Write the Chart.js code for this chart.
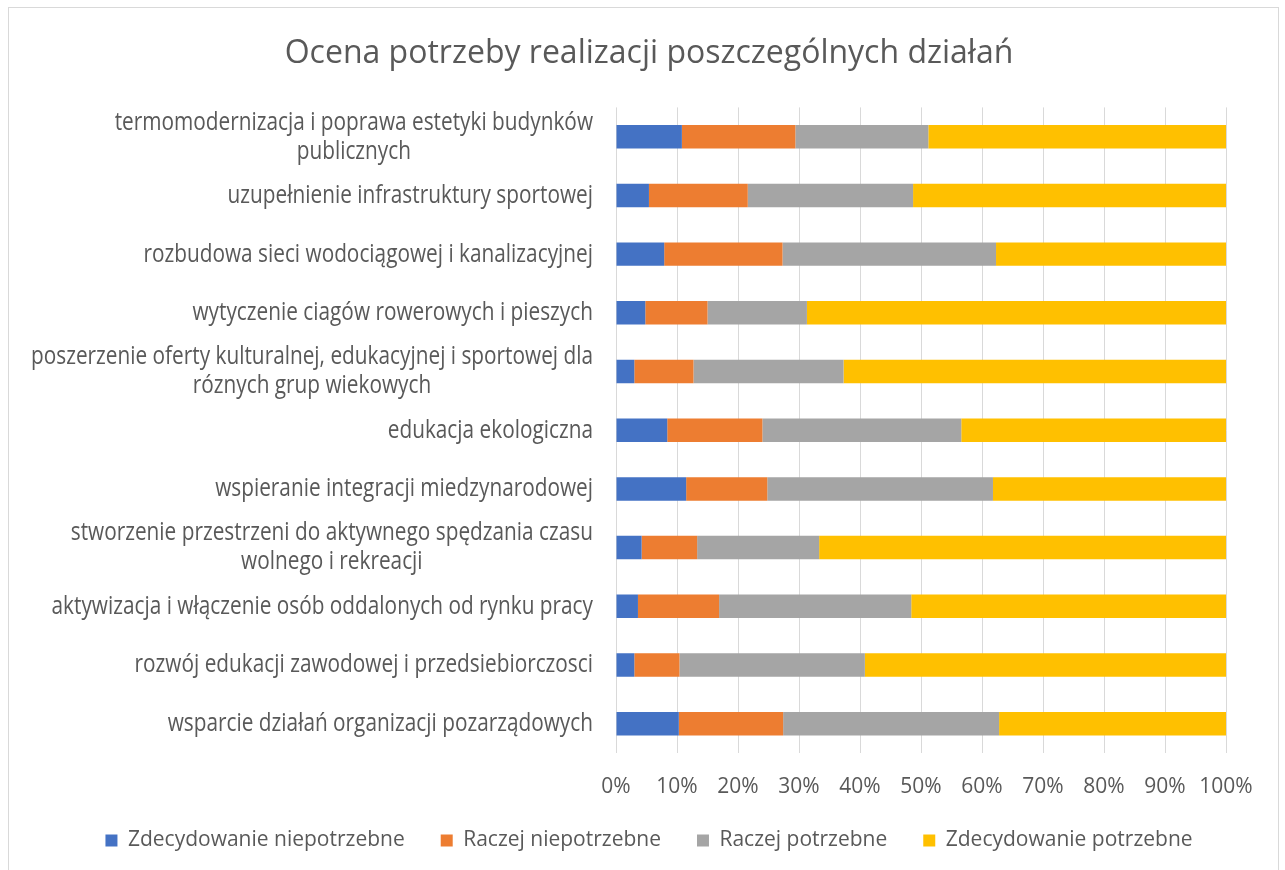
<!DOCTYPE html>
<html><head><meta charset="utf-8">
<script src="https://cdn.jsdelivr.net/npm/chart.js@4.4.1/dist/chart.umd.min.js"></script>
<style>
html,body{margin:0;padding:0;background:#fff;}
#wrap{position:relative;width:1285px;height:870px;overflow:hidden;}
#frame{position:absolute;left:8px;top:7px;width:1271px;height:880px;border:1px solid #d9d9d9;box-sizing:border-box;}
canvas{position:absolute;left:0;top:0;}
</style></head><body>
<div id="wrap"><div id="frame"></div><canvas id="c" width="1285" height="870"></canvas></div>
<script>
const categories = [
  ["termomodernizacja i poprawa estetyki budynków", "publicznych"],
  "uzupełnienie infrastruktury sportowej",
  "rozbudowa sieci wodociągowej i kanalizacyjnej",
  "wytyczenie ciagów rowerowych i pieszych",
  ["poszerzenie oferty kulturalnej, edukacyjnej i sportowej dla", "róznych grup wiekowych"],
  "edukacja ekologiczna",
  "wspieranie integracji miedzynarodowej",
  ["stworzenie przestrzeni do aktywnego spędzania czasu", "wolnego i rekreacji"],
  "aktywizacja i włączenie osób oddalonych od rynku pracy",
  "rozwój edukacji zawodowej i przedsiebiorczosci",
  "wsparcie działań organizacji pozarządowych"
];
const seriesNames = ["Zdecydowanie niepotrzebne", "Raczej niepotrzebne", "Raczej potrzebne", "Zdecydowanie potrzebne"];
const zdecydowanieNiepotrzebne = [10.8, 5.4, 7.9, 4.8, 3.0, 8.4, 11.5, 4.2, 3.6, 3.0, 10.3];
const raczejNiepotrzebne      = [18.6, 16.2, 19.4, 10.2, 9.7, 15.6, 13.3, 9.1, 13.3, 7.4, 17.1];
const raczejPotrzebne         = [21.8, 27.1, 35.0, 16.3, 24.6, 32.6, 37.0, 20.0, 31.5, 30.4, 35.4];
const zdecydowaniePotrzebne   = [48.8, 51.3, 37.7, 68.7, 62.7, 43.4, 38.2, 66.7, 51.6, 59.2, 37.2];
const xTicks = [0, 10, 20, 30, 40, 50, 60, 70, 80, 90, 100];

const colors = ["#4472C4", "#ED7D31", "#A5A5A5", "#FFC000"];
const TEXT = "#595959";
const FONT = "'Open Sans'";
const LBL_SIZE = 26;
const LBL_SQUEEZE = 0.8;
const LINE_H = 29;

const yLabelPlugin = {
  id: 'yLabels',
  afterDraw(chart) {
    const ctx = chart.ctx, ys = chart.scales.y;
    ctx.save();
    ctx.font = LBL_SIZE + "px " + FONT;
    ctx.fillStyle = TEXT;
    ctx.textBaseline = 'middle';
    ctx.textAlign = 'center';
    ctx.scale(LBL_SQUEEZE, 1);
    categories.forEach((lab, i) => {
      const lines = Array.isArray(lab) ? lab : [lab];
      const w = Math.max(...lines.map(l => ctx.measureText(l).width)) * LBL_SQUEEZE;
      const cx = chart.chartArea.left - 23 - w / 2;
      const yc = ys.getPixelForValue(i);
      lines.forEach((l, k) => ctx.fillText(l, cx / LBL_SQUEEZE, yc + (k - (lines.length - 1) / 2) * LINE_H));
    });
    ctx.restore();
  }
};

const data = [zdecydowanieNiepotrzebne, raczejNiepotrzebne, raczejPotrzebne, zdecydowaniePotrzebne];

new Chart(document.getElementById('c'), {
  type: 'bar',
  data: {
    labels: categories,
    datasets: data.map((d, i) => ({
      label: seriesNames[i],
      data: d,
      backgroundColor: colors[i],
      borderWidth: 0,
      barPercentage: 0.4,
      categoryPercentage: 1.0
    }))
  },
  options: {
    indexAxis: 'y',
    responsive: false,
    animation: false,
    devicePixelRatio: 1,
    layout: { padding: { left: 36, right: 23, top: 0, bottom: 9 } },
    plugins: {
      title: {
        display: true,
        text: "Ocena potrzeby realizacji poszczególnych działań",
        color: TEXT,
        font: { family: FONT, size: 32, weight: 'normal', lineHeight: 1.2 },
        padding: { top: 35, bottom: 34 }
      },
      legend: {
        position: 'bottom',
        labels: {
          boxWidth: 12, boxHeight: 12, padding: 36,
          color: TEXT,
          font: { family: FONT, size: 21 }
        }
      },
      tooltip: { enabled: false }
    },
    scales: {
      x: {
        stacked: true,
        min: 0, max: 100,
        afterBuildTicks(scale) { scale.ticks = xTicks.map(v => ({ value: v })); },
        afterFit(scale) { scale.height = 41; scale.paddingRight = 59; },
        grid: { color: '#D9D9D9', lineWidth: 1, drawTicks: false },
        border: { display: false },
        ticks: {
          color: TEXT, padding: 21,
          font: { family: FONT, size: 21 },
          callback: v => v + '%'
        }
      },
      y: {
        stacked: true,
        grid: { display: false },
        border: { display: false },
        ticks: { display: false },
        afterFit(scale) { scale.width = 580; }
      }
    }
  },
  plugins: [yLabelPlugin]
});
</script>
</body></html>
